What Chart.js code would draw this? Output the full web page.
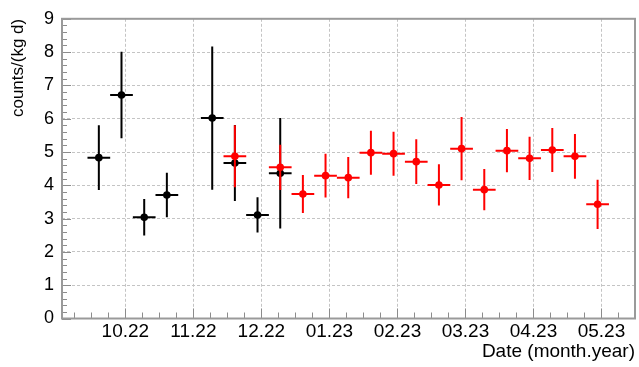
<!DOCTYPE html>
<html>
<head>
<meta charset="utf-8">
<script src="https://cdn.jsdelivr.net/npm/chart.js@4/dist/chart.umd.min.js"></script>
<style>
  html, body { margin: 0; padding: 0; background: #ffffff; }
  #wrap { width: 639px; height: 367px; }
</style>
</head>
<body>
<div id="wrap"><canvas id="c" width="639" height="367"></canvas></div>
<script>
// x values are in months, 1 = October 2022
const monthTicks  = [1, 2, 3, 4, 5, 6, 7, 8];
const monthLabels = ['10.22', '11.22', '12.22', '01.23', '02.23', '03.23', '04.23', '05.23'];
const rateTicks   = [0, 1, 2, 3, 4, 5, 6, 7, 8, 9];

// first measurement campaign (black)
const blackX    = [0.61, 0.943, 1.277, 1.61, 2.277, 2.61, 2.943, 3.277];
const blackRate = [4.83, 6.71, 3.04, 3.71, 6.02, 4.67, 3.11, 4.36];
const blackErr  = [0.97, 1.30, 0.55, 0.67, 2.15, 1.14, 0.53, 1.66];

// second measurement campaign (red)
const redX    = [2.61, 3.277, 3.61, 3.943, 4.277, 4.61, 4.943, 5.277, 5.61, 5.943, 6.277, 6.61, 6.943, 7.277, 7.61, 7.943];
const redRate = [4.87, 4.54, 3.74, 4.29, 4.23, 4.98, 4.95, 4.71, 4.01, 5.10, 3.87, 5.04, 4.81, 5.06, 4.87, 3.43];
const redErr  = [0.93, 0.68, 0.57, 0.66, 0.62, 0.66, 0.66, 0.67, 0.62, 0.95, 0.62, 0.65, 0.65, 0.66, 0.67, 0.74];

// half width of a time bin (bins are a third of a month)
const binHalf = 0.167;

const FONT = 'Liberation Sans, Arial, Helvetica, sans-serif';

function points(xs, ys, es) {
  return xs.map((x, i) => ({ x: x, y: ys[i], err: es[i] }));
}

// error bars drawn under each dataset's markers
const errorBars = {
  id: 'errorBars',
  beforeDatasetDraw(chart, args) {
    const ds = chart.data.datasets[args.index];
    const xs = chart.scales.x, ys = chart.scales.y;
    const ctx = chart.ctx;
    ctx.save();
    ctx.strokeStyle = ds.borderColor;
    ctx.lineWidth = 2;
    ctx.lineCap = 'butt';
    ds.data.forEach(p => {
      const px = xs.getPixelForValue(p.x);
      const py = ys.getPixelForValue(p.y);
      ctx.beginPath();
      ctx.moveTo(px, ys.getPixelForValue(p.y - p.err));
      ctx.lineTo(px, ys.getPixelForValue(p.y + p.err));
      ctx.moveTo(xs.getPixelForValue(p.x - binHalf), py);
      ctx.lineTo(xs.getPixelForValue(p.x + binHalf), py);
      ctx.stroke();
    });
    ctx.restore();
  }
};

// frame around the plot with inward tick marks
const frameTicks = {
  id: 'frameTicks',
  beforeDatasetsDraw(chart) {
    const ctx = chart.ctx;
    const a = chart.chartArea;
    const xs = chart.scales.x, ys = chart.scales.y;
    ctx.save();
    ctx.strokeStyle = '#8c8c8c';
    ctx.lineWidth = 1;
    ctx.beginPath();
    // y ticks: major every 1, minor every 0.2
    for (let v = ys.min; v <= ys.max + 1e-6; v += 0.2) {
      const r = Math.round(v * 5) / 5;
      const major = Math.abs(r - Math.round(r)) < 1e-6;
      const py = Math.round(ys.getPixelForValue(r)) + 0.5;
      ctx.moveTo(a.left, py);
      ctx.lineTo(a.left + (major ? 9 : 5), py);
    }
    // x ticks: major each month, minor each quarter month
    const start = Math.ceil(xs.min * 4) / 4;
    for (let v = start; v <= xs.max + 1e-6; v += 0.25) {
      const major = Math.abs(v - Math.round(v)) < 1e-6;
      const px = Math.round(xs.getPixelForValue(v)) + 0.5;
      ctx.moveTo(px, a.bottom);
      ctx.lineTo(px, a.bottom - (major ? 10 : 6));
    }
    ctx.stroke();
    ctx.strokeStyle = '#9a9a9a';
    ctx.lineWidth = 2;
    ctx.strokeRect(a.left, a.top, a.right - a.left, a.bottom - a.top);
    ctx.restore();
  }
};

new Chart(document.getElementById('c'), {
  type: 'scatter',
  data: {
    datasets: [
      {
        label: 'red',
        data: points(redX, redRate, redErr),
        borderColor: '#ff0000',
        backgroundColor: '#ff0000',
        pointRadius: 3.8,
        pointBorderWidth: 0,
        order: 1
      },
      {
        label: 'black',
        data: points(blackX, blackRate, blackErr),
        borderColor: '#000000',
        backgroundColor: '#000000',
        pointRadius: 3.8,
        pointBorderWidth: 0,
        order: 2
      }
    ]
  },
  options: {
    responsive: false,
    devicePixelRatio: 1,
    animation: false,
    events: [],
    layout: { padding: { left: 0, top: 12, right: 1, bottom: 0 } },
    plugins: { legend: { display: false }, tooltip: { enabled: false }, title: { display: false } },
    scales: {
      x: {
        type: 'linear',
        min: 0.0683,
        max: 8.493,
        afterBuildTicks: s => { s.ticks = monthTicks.map(v => ({ value: v })); },
        afterFit: s => { s.height = 48.5; },
        grid: { color: '#c4c4c4', lineWidth: 1, drawTicks: false },
        border: { display: false, dash: [3, 2] },
        ticks: {
          color: '#000000',
          padding: 2,
          maxRotation: 0,
          autoSkip: false,
          font: { family: FONT, size: 19 },
          callback: v => {
            const i = monthTicks.indexOf(v);
            return i >= 0 ? monthLabels[i] : '';
          }
        },
        title: {
          display: true,
          text: 'Date (month.year)',
          align: 'end',
          color: '#000000',
          font: { family: FONT, size: 19 },
          padding: { top: 0, bottom: 4 }
        }
      },
      y: {
        type: 'linear',
        min: 0,
        max: 9,
        afterBuildTicks: s => { s.ticks = rateTicks.map(v => ({ value: v })); },
        afterFit: s => { s.width = 62; },
        grid: { color: '#c4c4c4', lineWidth: 1, drawTicks: false },
        border: { display: false, dash: [3, 2] },
        ticks: {
          color: '#000000',
          padding: 8,
          font: { family: FONT, size: 18 },
          callback: v => String(v)
        },
        title: {
          display: true,
          text: 'counts/(kg d)',
          align: 'end',
          color: '#000000',
          font: { family: FONT, size: 17 },
          padding: { top: 8, bottom: 0 }
        }
      }
    }
  },
  plugins: [errorBars, frameTicks]
});
</script>
</body>
</html>
